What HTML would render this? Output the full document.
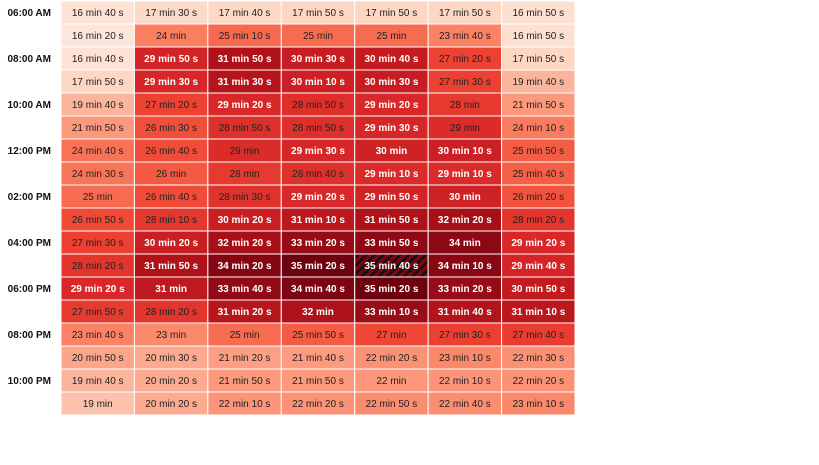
<!DOCTYPE html>
<html><head><meta charset="utf-8">
<style>
body{margin:0;background:#fff;width:819px;height:460px;overflow:hidden;font-family:"Liberation Sans",sans-serif}
svg text{font-family:"Liberation Sans",sans-serif}
</style></head>
<body>
<svg id="chart" width="819" height="460" xmlns="http://www.w3.org/2000/svg">
<defs><pattern id="hatch" width="6" height="6" patternUnits="userSpaceOnUse" patternTransform="rotate(45)"><rect width="6" height="6" fill="#7a0410"/><rect width="2.5" height="6" fill="#111"/></pattern></defs>
<g id="cells"></g><g id="ylabels"></g>
</svg>
<script>
const hours = [6,7,8,9,10,11,12,13,14,15,16,17,18,19,20,21,22,23];
const columns = ["c1","c2","c3","c4","c5","c6","c7"];
const values = [
["16:40","17:30","17:40","17:50","17:50","17:50","16:50"],
["16:20","24","25:10","25","25","23:40","16:50"],
["16:40","29:50","31:50","30:30","30:40","27:20","17:50"],
["17:50","29:30","31:30","30:10","30:30","27:30","19:40"],
["19:40","27:20","29:20","28:50","29:20","28","21:50"],
["21:50","26:30","28:50","28:50","29:30","29","24:10"],
["24:40","26:40","29","29:30","30","30:10","25:50"],
["24:30","26","28","28:40","29:10","29:10","25:40"],
["25","26:40","28:30","29:20","29:50","30","26:20"],
["26:50","28:10","30:20","31:10","31:50","32:20","28:20"],
["27:30","30:20","32:20","33:20","33:50","34","29:20"],
["28:20","31:50","34:20","35:20","35:40","34:10","29:40"],
["29:20","31","33:40","34:40","35:20","33:20","30:50"],
["27:50","28:20","31:20","32","33:10","31:40","31:10"],
["23:40","23","25","25:50","27","27:30","27:40"],
["20:50","20:30","21:20","21:40","22:20","23:10","22:30"],
["19:40","20:20","21:50","21:50","22","22:10","22:20"],
["19","20:20","22:10","22:20","22:50","22:40","23:10"]
];
const x0=61, colW=73.43, y0=1, rowH=23;
const xPos = i => x0 + i*colW;
const yPos = i => y0 + i*rowH;
const stops=[[16,[254,233,223]],[18,[253,212,194]],[20,[252,175,150]],[24,[251,126,95]],[27,[240,70,52]],[29.5,[215,38,40]],[31.5,[182,20,27]],[34,[140,8,20]],[35.7,[103,0,13]]];
function color(v){
  if(v<=stops[0][0]) return `rgb(${stops[0][1]})`;
  for(let i=1;i<stops.length;i++){ if(v<=stops[i][0]){const a=stops[i-1],b=stops[i],t=(v-a[0])/(b[0]-a[0]);
    return `rgb(${a[1].map((c,k)=>Math.round(c+(b[1][k]-c)*t)).join(',')})`;}}
  return `rgb(${stops[stops.length-1][1]})`;
}
function parse(s){const p=s.split(':');return +p[0]+(p[1]?+p[1]/60:0);}
function label(s){const p=s.split(':');return p[1]?`${p[0]} min ${p[1]} s`:`${p[0]} min`;}
function hourLabel(h){const ap=h<12?'AM':'PM';let hh=h%12;if(hh===0)hh=12;return String(hh).padStart(2,'0')+':00 '+ap;}
const NS="http://www.w3.org/2000/svg";
const cg=document.getElementById('cells'), yg=document.getElementById('ylabels');
let maxV=-1,maxR=0,maxC=0;
values.forEach((r,ri)=>r.forEach((s,ci)=>{const v=parse(s);if(v>maxV){maxV=v;maxR=ri;maxC=ci;}}));
values.forEach((row,ri)=>{
  row.forEach((s,ci)=>{
    const v=parse(s);
    const g=document.createElementNS(NS,'g');
    
    
    const r=document.createElementNS(NS,'rect');
    r.setAttribute('x',xPos(ci));r.setAttribute('y',yPos(ri));
    r.setAttribute('width',colW);r.setAttribute('height',rowH);
    r.setAttribute('fill',(ri===maxR&&ci===maxC)?'url(#hatch)':color(v));
    r.setAttribute('stroke','#fff');r.setAttribute('stroke-width','1');
    g.appendChild(r);
    const t=document.createElementNS(NS,'text');
    t.setAttribute('x',xPos(ci)+colW/2);t.setAttribute('y',yPos(ri)+rowH/2+3.5);
    t.setAttribute('text-anchor','middle');t.setAttribute('font-size','10');
    const white=v>=29.1;
    t.setAttribute('fill',white?'#fff':'#222');
    if(white)t.setAttribute('font-weight','bold');
    t.textContent=label(s);
    g.appendChild(t);
    cg.appendChild(g);
  });
});
hours.forEach((h,ri)=>{
  if(ri%2!==0) return;
  const t=document.createElementNS(NS,'text');
  
  
  t.setAttribute('x',51);t.setAttribute('y',yPos(ri)+rowH/2+3.5);
  t.setAttribute('text-anchor','end');t.setAttribute('font-size','10');t.setAttribute('font-weight','bold');t.setAttribute('fill','#111');
  t.textContent=hourLabel(h);
  yg.appendChild(t);
});
</script>
</body></html>
